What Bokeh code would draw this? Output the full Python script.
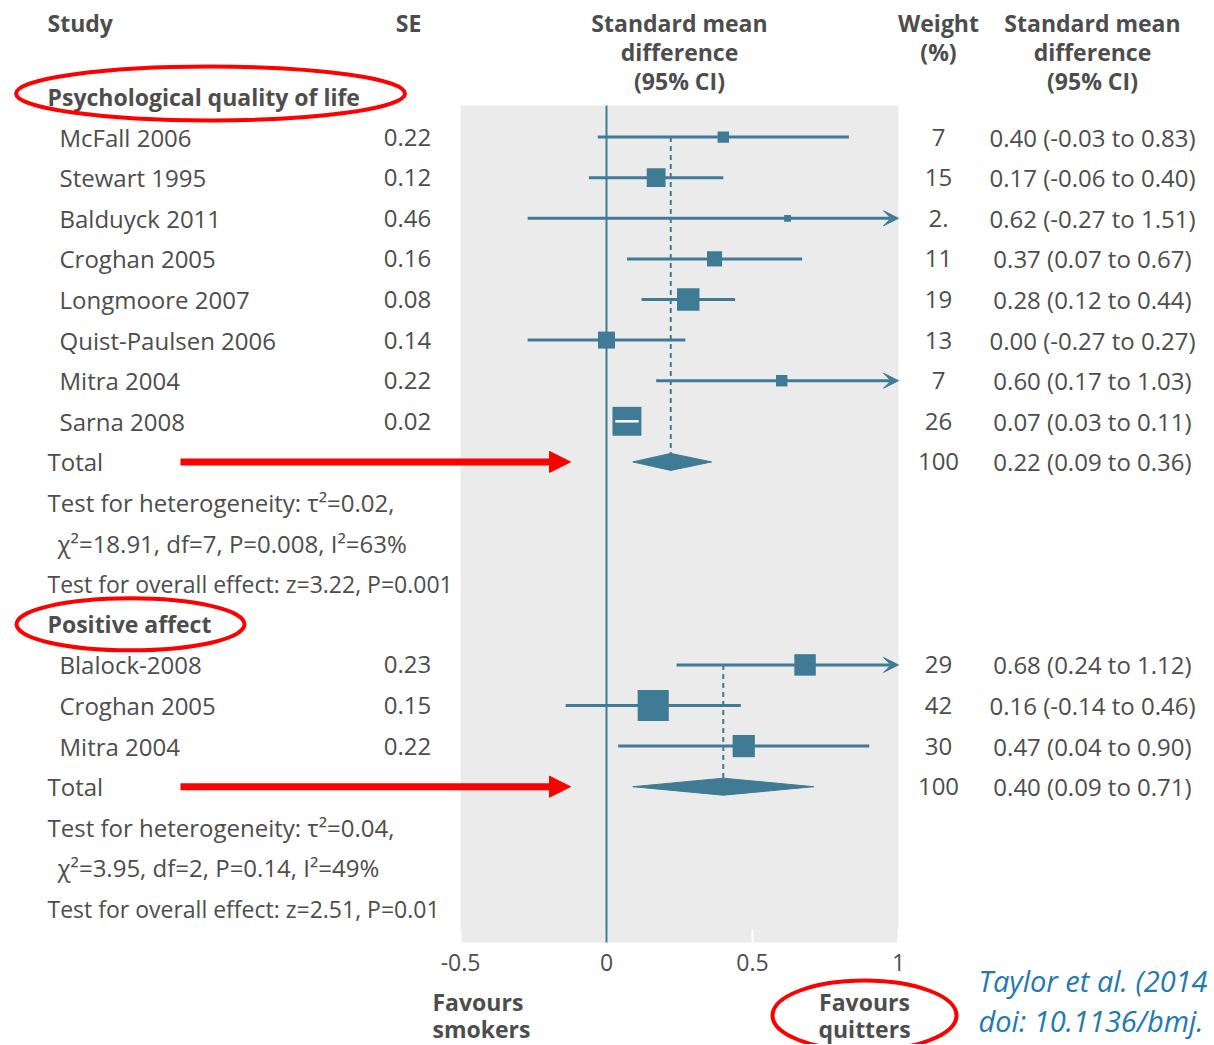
from bokeh.plotting import figure
from bokeh.models import Range1d, ColumnDataSource, Arrow, VeeHead, NormalHead
from bokeh.core.properties import value
from bokeh.embed import file_html
from bokeh.resources import INLINE

# ---------------- data ----------------
group_names = ["Psychological quality of life", "Positive affect"]

study_q = ["McFall 2006", "Stewart 1995", "Balduyck 2011", "Croghan 2005",
           "Longmoore 2007", "Quist-Paulsen 2006", "Mitra 2004", "Sarna 2008"]
se_q = ["0.22", "0.12", "0.46", "0.16", "0.08", "0.14", "0.22", "0.02"]
smd_q = [0.40, 0.17, 0.62, 0.37, 0.28, 0.00, 0.60, 0.07]
lo_q = [-0.03, -0.06, -0.27, 0.07, 0.12, -0.27, 0.17, 0.03]
hi_q = [0.83, 0.40, 1.51, 0.67, 0.44, 0.27, 1.03, 0.11]
weight_q = [7, 15, 2, 11, 19, 13, 7, 26]
weight_lbl_q = ["7", "15", "2.", "11", "19", "13", "7", "26"]
total_q = [0.22, 0.09, 0.36]
stats_q = ["Test for heterogeneity: \u03c4\u00b2=0.02,",
           "\u03c7\u00b2=18.91, df=7, P=0.008, I\u00b2=63%",
           "Test for overall effect: z=3.22, P=0.001"]

study_p = ["Blalock-2008", "Croghan 2005", "Mitra 2004"]
se_p = ["0.23", "0.15", "0.22"]
smd_p = [0.68, 0.16, 0.47]
lo_p = [0.24, -0.14, 0.04]
hi_p = [1.12, 0.46, 0.90]
weight_p = [29, 42, 30]
weight_lbl_p = ["29", "42", "30"]
total_p = [0.40, 0.09, 0.71]
stats_p = ["Test for heterogeneity: \u03c4\u00b2=0.04,",
           "\u03c7\u00b2=3.95, df=2, P=0.14, I\u00b2=49%",
           "Test for overall effect: z=2.51, P=0.01"]

x_ticks = [-0.5, 0, 0.5, 1]
x_tick_labels = ["-0.5", "0", "0.5", "1"]
x_min, x_max = -0.5, 1.0

# ---------------- layout helpers ----------------
W, H = 1212, 1044
OFF = 0
PX_LO, PX_HI = 460, 898          # pixel position of x_min / x_max
PXU = (PX_HI - PX_LO) / (x_max - x_min)
ROW0, ROWH = 96, 40.6


def fx(X):
    return x_min + (X - PX_LO) / PXU


def fy(Y):
    return (Y - ROW0) / ROWH


TEAL = "#3f7b94"
TEXT = "#4d4d4d"
FONT = "Open Sans"
FS = "24px"
FSB = "23px"

p = figure(width=W, height=H,
           x_range=Range1d(fx(OFF), fx(OFF + W)),
           y_range=Range1d(fy(OFF + H), fy(OFF)),
           x_axis_location=None, y_axis_location=None,
           output_backend="svg", toolbar_location=None, min_border=0)
p.grid.visible = False
p.outline_line_color = None
p.background_fill_color = "white"
p.border_fill_color = "white"


def txt(x, y, s, size=None, align="left", bold=False, color=TEXT, italic=False):
    style = "bold" if bold else ("italic" if italic else "normal")
    if size is None:
        size = FSB if bold else FS
    p.text(x=x, y=y, text=s, text_font=value(FONT), text_font_size=size,
           text_align=align, text_baseline="middle", text_color=color,
           text_font_style=style)


# panel
p.quad(left=[x_min], right=[x_max], top=[fy(105)], bottom=[fy(942)],
       fill_color="#ebebeb", line_color=None)
# white ticks at panel bottom
p.segment(x0=x_ticks, x1=x_ticks, y0=[fy(929)] * len(x_ticks), y1=[fy(942)] * len(x_ticks),
          line_color="white", line_width=2)
# zero line
p.segment(x0=[0], x1=[0], y0=[fy(105)], y1=[fy(942)], line_color=TEAL, line_width=2)

DIA_H = 8.5 / ROWH


def draw_group(hdr_row, name, studies, se, smd, lo, hi, w, wl, total, stats, box_a, box_b):
    rows = [hdr_row + 1 + i for i in range(len(studies))]
    trow = rows[-1] + 1
    srows = [trow + 1, trow + 2, trow + 3]
    # dashed pooled line
    p.segment(x0=[total[0]], x1=[total[0]], y0=[rows[0]], y1=[trow - DIA_H],
              line_color=TEAL, line_width=2, line_dash="5 4")
    # CI lines
    plain = [i for i in range(len(studies)) if hi[i] <= x_max]
    arr = [i for i in range(len(studies)) if hi[i] > x_max]
    p.segment(x0=[lo[i] for i in plain], x1=[hi[i] for i in plain],
              y0=[rows[i] for i in plain], y1=[rows[i] for i in plain],
              line_color=TEAL, line_width=3)
    if arr:
        src = ColumnDataSource(dict(x0=[max(lo[i], x_min) for i in arr],
                                    x1=[x_max] * len(arr),
                                    y=[rows[i] for i in arr]))
        p.add_layout(Arrow(end=VeeHead(size=15, fill_color=TEAL, line_color=TEAL, line_width=1),
                           x_start="x0", y_start="y", x_end="x1", y_end="y",
                           line_color=TEAL, line_width=3, source=src))
    sizes = [box_a + box_b * v for v in w]
    p.rect(x=smd, y=rows, width=sizes, height=sizes, width_units="screen",
           height_units="screen", fill_color=TEAL, line_color=None)
    # CI narrower than the box: shown in white
    nar = [i for i in range(len(studies)) if (hi[i] - lo[i]) * PXU < sizes[i]]
    if nar:
        p.segment(x0=[lo[i] for i in nar], x1=[hi[i] for i in nar],
                  y0=[rows[i] for i in nar], y1=[rows[i] for i in nar],
                  line_color="white", line_width=2.5)
    # diamond
    p.patches(xs=[[total[1], total[0], total[2], total[0]]],
              ys=[[trow, trow - DIA_H, trow, trow + DIA_H]],
              fill_color=TEAL, line_color=TEAL, line_width=1)
    # texts
    txt([fx(47)], [hdr_row], [name], bold=True)
    txt([fx(59)] * len(studies), rows, studies)
    txt([fx(407)] * len(studies), rows, se, align="center")
    txt([fx(938)] * (len(studies) + 1), rows + [trow], wl + ["100"], align="center")
    ci = ["%.2f (%.2f to %.2f)" % (smd[i], lo[i], hi[i]) for i in range(len(studies))]
    ci.append("%.2f (%.2f to %.2f)" % tuple(total))
    txt([fx(1092)] * len(ci), rows + [trow], ci, align="center")
    txt([fx(47)], [trow], ["Total"])
    txt([fx(47), fx(57)], srows[:2], stats[:2])
    txt([fx(47)], srows[2:], stats[2:], size="23px")
    return trow


t1 = draw_group(0, group_names[0], study_q, se_q, smd_q, lo_q, hi_q, weight_q,
                weight_lbl_q, total_q, stats_q, 5.0, 0.92)
hdr2 = t1 + 4
t2 = draw_group(hdr2, group_names[1], study_p, se_p, smd_p, lo_p, hi_p, weight_p,
                weight_lbl_p, total_p, stats_p, 0.0, 0.74)

# headers
txt([fx(47)], [fy(22)], ["Study"], bold=True)
txt([fx(408)], [fy(22)], ["SE"], bold=True, align="center")
hdr = ["Standard mean", "difference", "(95% CI)"]
txt([fx(679)] * 3, [fy(22), fy(51), fy(80)], hdr, bold=True, align="center")
txt([fx(1092)] * 3, [fy(22), fy(51), fy(80)], hdr, bold=True, align="center")
txt([fx(938)] * 2, [fy(22), fy(51)], ["Weight", "(%)"], bold=True, align="center")

# axis tick labels
txt(x_ticks, [fy(962)] * len(x_ticks), x_tick_labels, align="center", size="23px")
txt([fx(432)] * 2, [fy(1001), fy(1028)], ["Favours", "smokers"], bold=True)
txt([fx(864)] * 2, [fy(1001), fy(1028)], ["Favours", "quitters"], bold=True, align="center")

# citation
txt([fx(978)] * 2, [fy(980), fy(1020)], ["Taylor et al. (2014", "doi: 10.1136/bmj."],
    size="29px", italic=True, color="#2379b0")

# red annotations
for r in [t1, t2]:
    p.add_layout(Arrow(end=NormalHead(size=21, fill_color="red", line_color="red", line_width=1),
                       x_start=fx(180), x_end=fx(570), y_start=r, y_end=r,
                       line_color="red", line_width=7))
p.ellipse(x=[fx(210), fx(130), fx(864)], y=[fy(93), hdr2, fy(1015)],
          width=[389, 228, 184], height=[54, 52, 70], width_units="screen",
          height_units="screen", fill_color=None, line_color="red", line_width=4)

open("out.html", "w").write(file_html(p, INLINE))
